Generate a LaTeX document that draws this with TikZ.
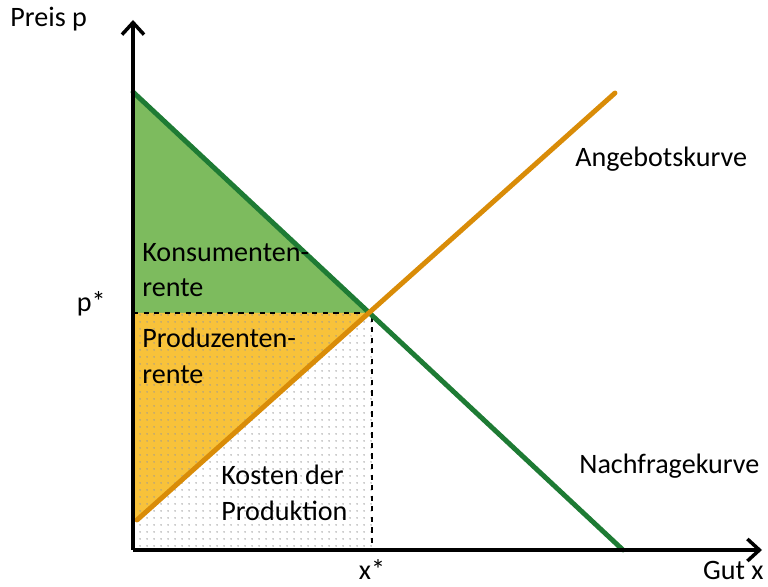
\documentclass[tikz,border=0pt]{standalone}
\usepackage{fontspec}
\setmainfont{Carlito}
\usepackage{xcolor}
\usepackage{tikz}
\usetikzlibrary{arrows.meta,patterns.meta}
\definecolor{Demand}{HTML}{1E7B34}
\definecolor{DemandFill}{HTML}{7DBB5E}
\definecolor{Supply}{HTML}{D98C08}
\definecolor{SupplyFill}{HTML}{F8C23A}

\begin{document}
\begin{tikzpicture}[
  x=0.02cm,y=-0.02cm,
  font=\fontsize{16}{20}\selectfont,
  axis/.style={-{Straight Barb[length=2.4mm,width=4.4mm]},line width=2pt,black},
  curve/.style={line width=2.8pt,line cap=round},
  guide/.style={dashed,line width=1.3pt,black},
  lbl/.style={inner sep=0pt,anchor=base west},
  arealbl/.style={inner sep=0pt,align=left,anchor=north west}]
  \useasboundingbox (0,0) rectangle (768,587);
  \coordinate (O) at (133,550);
  \coordinate (ytip) at (133,20);
  \coordinate (xtip) at (762,550);
  \coordinate (dtop) at (133,92);
  \coordinate (dend) at (623,550);
  \coordinate (sstart) at (137,520);
  \coordinate (send) at (615,93);
  \coordinate (E) at (372,313);
  \coordinate (pstar) at (133,313);
  \coordinate (xstar) at (372,550);
  \coordinate (sbase) at (133,523.5);
  % areas
  \fill[DemandFill] (dtop) -- (E) -- (pstar) -- cycle;
  \fill[SupplyFill] (pstar) -- (E) -- (sbase) -- cycle;
  \fill[pattern={Dots[distance=4pt,radius=0.5pt]},pattern color=gray!80] (pstar) rectangle (xstar);
  \draw[guide] (pstar) -- (E) -- (xstar);
  % curves
  \draw[curve,Demand] (dtop) -- (dend);
  \draw[curve,Supply] (sstart) -- (send);
  % axes
  \draw[axis] (O) -- (ytip);
  \draw[axis] (O) -- (xtip);
  % labels
  \node[lbl] (plabel) at (10,27) {Preis p};
  \node[inner sep=0pt,anchor=base east] (xlabel) at (764,580) {Gut x};
  \node[inner sep=0pt,anchor=base east] (pstarlbl) at (106,312) {p*};
  \node[inner sep=0pt,anchor=base] (xstarlbl) at (xstar |- 0,580) {x*};
  \node[lbl] (supplylbl) at (575,167) {Angebotskurve};
  \node[lbl] (demandlbl) at (579,474) {Nachfragekurve};
  \node[arealbl] (kr) at (142,243) {Konsumenten-\\rente};
  \node[arealbl] (pr) at (142,328) {Produzenten-\\rente};
  \node[arealbl] (kp) at (221,465) {Kosten der\\Produktion};
\end{tikzpicture}
\end{document}
